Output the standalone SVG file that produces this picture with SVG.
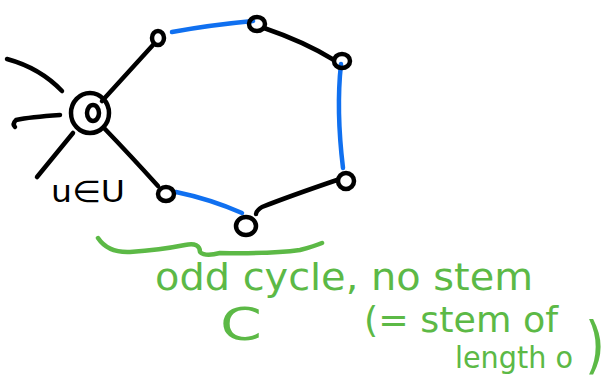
<svg xmlns="http://www.w3.org/2000/svg" width="608" height="385" viewBox="0 0 608 385">
<style>
.k{fill:none;stroke:#000;stroke-width:4.5;stroke-linecap:round;stroke-linejoin:round}
.b{fill:none;stroke:#1070f0;stroke-width:4.5;stroke-linecap:round}
.g{fill:none;stroke:#5cb946;stroke-width:4.5;stroke-linecap:round;stroke-linejoin:round}
.n{fill:none;stroke:#000;stroke-width:4.5}
.gt{fill:#5cb946;font-family:"DejaVu Sans",sans-serif}
.kt{fill:#000;font-family:"DejaVu Sans",sans-serif}
</style>
<rect width="608" height="385" fill="#fff"/>
<g id="edges">
<path class="k" d="M7,59 Q40,68 62,91"/>
<path class="k" d="M60,115 Q30,117 16,120 Q12,124 15,127"/>
<path class="k" d="M73,133 Q55,155 37,177"/>
<path class="k" d="M102,101 L153,45"/>
<path class="b" d="M172,32 Q210,25 253,21"/>
<path class="k" d="M264,28 Q305,42 334,60"/>
<path class="b" d="M341,64 Q336,110 343,168"/>
<path class="k" d="M337,180 Q290,196 262,207 Q256,211 256,214"/>
<path class="b" d="M176,192 Q210,199 242,213"/>
<path class="k" d="M104,128 Q130,155 158,186"/>
</g>
<g id="u">
<ellipse class="n" cx="90" cy="113" rx="19" ry="20"/>
<ellipse class="n" cx="93" cy="113" rx="6" ry="8"/>
<text class="kt" x="51" y="202" font-size="30" textLength="74" lengthAdjust="spacingAndGlyphs">u∈U</text>
</g>
<g id="n1"><ellipse class="n" cx="158" cy="38" rx="6" ry="7"/></g>
<g id="n2"><ellipse class="n" cx="257" cy="24" rx="8" ry="7"/></g>
<g id="n3"><ellipse class="n" cx="342" cy="61" rx="8" ry="7"/></g>
<g id="n4"><ellipse class="n" cx="346" cy="181" rx="8" ry="8"/></g>
<g id="n5"><ellipse class="n" cx="246" cy="226" rx="10" ry="9"/></g>
<g id="n6"><ellipse class="n" cx="166" cy="194" rx="8" ry="7"/></g>
<g id="label">
<path class="g" d="M98,238 Q108,253 130,252 Q160,250 185,245 Q200,242 200,252 Q205,257 220,253 Q270,254 300,250 Q315,246 322,243"/>
<text class="gt" x="155" y="290" font-size="38" textLength="378" lengthAdjust="spacingAndGlyphs">odd cycle, no stem</text>
<text class="gt" x="220" y="340" font-size="44" textLength="42" lengthAdjust="spacingAndGlyphs">C</text>
<text class="gt" x="364" y="332" font-size="35" textLength="194" lengthAdjust="spacingAndGlyphs">(= stem of</text>
<text class="gt" x="455" y="368" font-size="30" textLength="118" lengthAdjust="spacingAndGlyphs">length o</text>
<text class="gt" x="585" y="366" font-size="62" textLength="20" lengthAdjust="spacingAndGlyphs">)</text>
</g>
</svg>
